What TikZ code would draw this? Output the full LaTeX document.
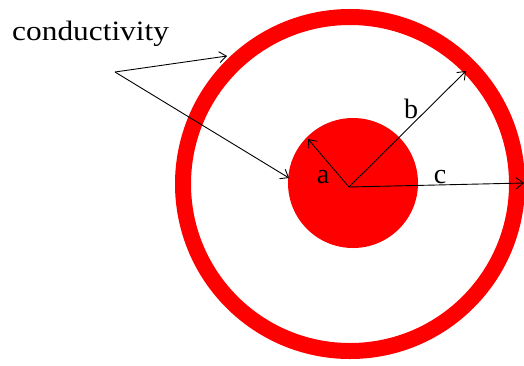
\documentclass[tikz,border=0pt]{standalone}
\usepackage{fontspec}
\setmainfont{Liberation Serif}
\usetikzlibrary{arrows.meta}
\definecolor{ringred}{RGB}{255,0,0}
\tikzset{
  lbl/.style={font=\fontsize{28}{28}\selectfont, inner sep=0pt},
  arr/.style={draw=black, line width=0.9pt, -{Straight Barb[length=7pt,width=11pt,line width=0.9pt]}},
}
\begin{document}
\begin{tikzpicture}[x=1pt,y=-1pt]
\useasboundingbox (0,0) rectangle (524,365);
\fill[white] (0,0) rectangle (524,365);
% outer ring
\draw[ringred, line width=16pt] (350,184) circle[radius=167];
% inner disk
\fill[ringred] (353,183) circle[radius=65];
% points
\coordinate (o) at (349,187);
\coordinate (ta) at (308,139);
\coordinate (tb) at (466,71);
\coordinate (tc) at (524,183);
\coordinate (src) at (115,72);
\coordinate (t1) at (227,56);
\coordinate (t2) at (289,178);
% radius arrows
\draw[arr] (o) -- (ta);
\draw[arr] (o) -- (tb);
\draw[arr] (o) -- (tc);
% conductivity arrows
\draw[arr] (src) -- (t1);
\draw[arr] (src) -- (t2);
% labels
\node[lbl, xscale=1.12, anchor=base west] (cond) at (12,40) {conductivity};
\node[lbl, anchor=base] (la) at (323,183) {a};
\node[lbl, anchor=base] (lb) at (411,118) {b};
\node[lbl, anchor=base] (lc) at (440,183) {c};
\end{tikzpicture}
\end{document}
